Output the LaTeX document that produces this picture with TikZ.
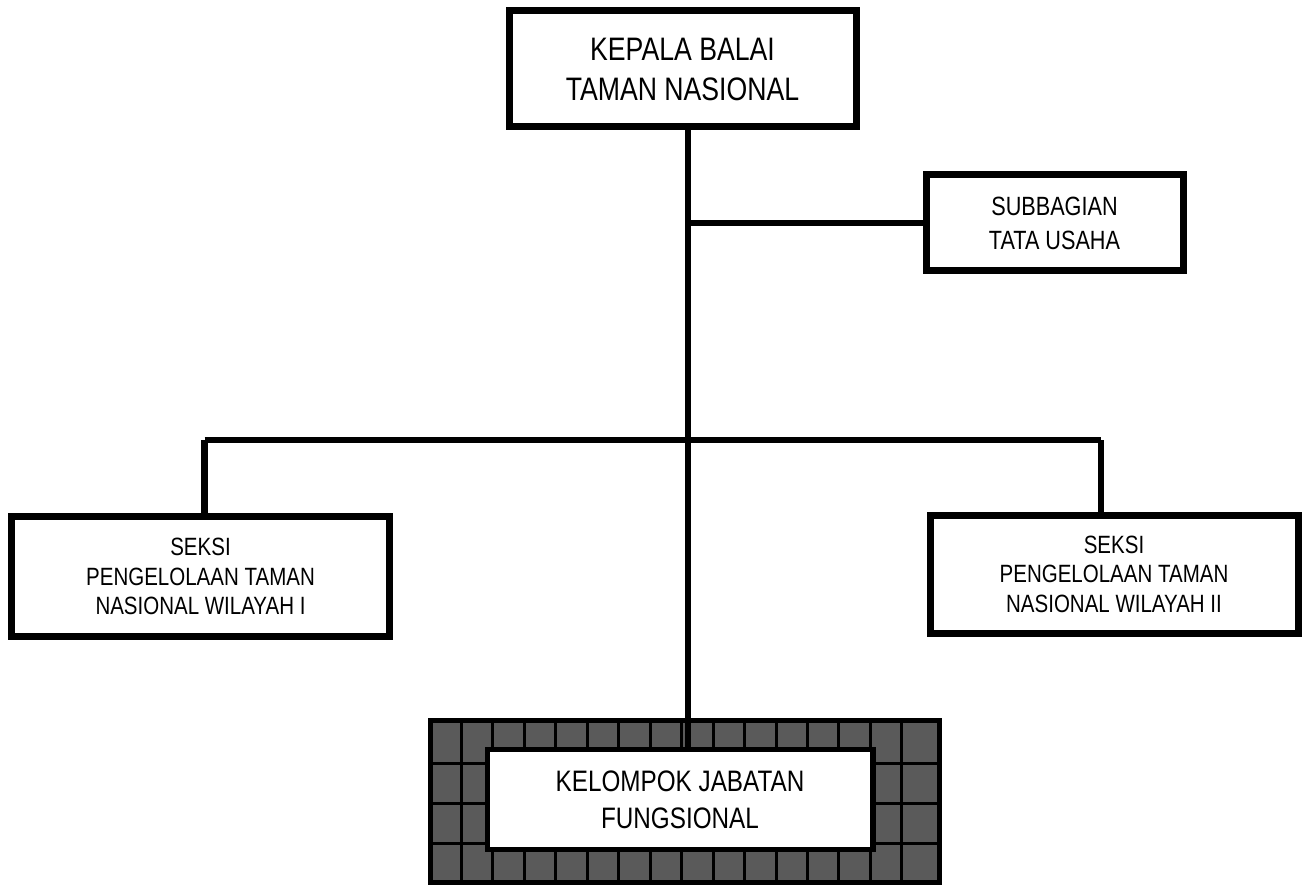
\documentclass[tikz,border=0pt]{standalone}
\usepackage{fontspec}
\setmainfont[FakeStretch=0.82]{Liberation Sans}
\definecolor{cellgray}{HTML}{5A5A5A}
\begin{document}
\begin{tikzpicture}[x=1pt,y=-1pt,
  orgbox/.style={draw=black,fill=white,line width=7pt,inner sep=0pt,align=center},
  link/.style={draw=black,line width=6.5pt}]
\useasboundingbox (0,0) rectangle (1307,885);
% grid background behind the functional group
\path[fill=cellgray,draw=black,line width=5pt] (430.5,720.5) rectangle (939.5,882.5);
\foreach \k in {0,...,14} {\draw[line width=3pt] ({461.5+31.45*\k},720.5) -- ({461.5+31.45*\k},882.5);}
\foreach \yy in {763.5,803.5,843.5} {\draw[line width=3pt] (430.5,\yy) -- (939.5,\yy);}
% boxes
\node[orgbox,minimum width=347pt,minimum height=116pt,font=\fontsize{32.5}{40}\selectfont] (kepala) at (682.5,69) {KEPALA BALAI\\TAMAN NASIONAL};
\node[orgbox,minimum width=257pt,minimum height=96pt,font=\fontsize{26.4}{34}\selectfont] (sub) at (1054.5,223) {SUBBAGIAN\\TATA USAHA};
\node[orgbox,minimum width=378pt,minimum height=120pt,font=\fontsize{25}{29.5}\selectfont] (seksiA) at (200.5,576.5) {SEKSI\\PENGELOLAAN TAMAN\\NASIONAL WILAYAH I};
\node[orgbox,minimum width=368pt,minimum height=118pt,font=\fontsize{25}{29.5}\selectfont] (seksiB) at (1114,574) {SEKSI\\PENGELOLAAN TAMAN\\NASIONAL WILAYAH II};
% connector coordinates
\coordinate (t) at (688,0);
\coordinate (barL) at (204.5,440);
\coordinate (barR) at (1101,440);
\coordinate (kelTop) at (688,749.5);
% connectors
\draw[link] (kepala.south -| t) -- (kelTop);
\draw[link] (sub.west -| t) -- (sub.west);
\draw[link] (barL) -- (barR);
\draw[link] (barL) -- (barL |- seksiA.north);
\draw[link] (barR) -- (barR |- seksiB.north);
% functional group box on top
\node[orgbox,line width=5.5pt,minimum width=385.5pt,minimum height=100pt,font=\fontsize{29.6}{37}\selectfont] (kelompok) at (680,799.5) {KELOMPOK JABATAN\\FUNGSIONAL};
\end{tikzpicture}
\end{document}
